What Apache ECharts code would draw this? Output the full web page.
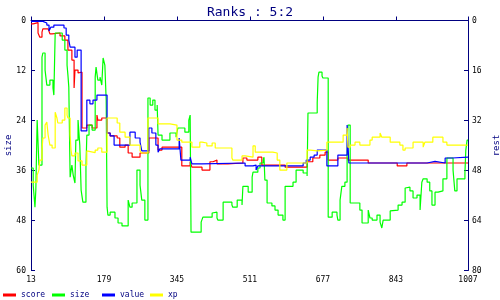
<!DOCTYPE html>
<html><head><meta charset="utf-8">
<script src="https://cdn.jsdelivr.net/npm/echarts@6/dist/echarts.min.js"></script>
<style>html,body{margin:0;padding:0;background:#fff}#c{width:500px;height:300px}</style>
</head><body><div id="c"></div>
<script>
const xTicks = [13, 179, 345, 511, 677, 843, 1007];
const seriesNames = ['score', 'size', 'value', 'xp'];

const score = [[13,0.8],[18,0.5],[29,3.0],[33,4.0],[38,2.8],[40,2.0],[52,2.3],[56,3.2],[61,3.0],[79,3.7],[90,4.7],[97,7.1],[106,9.5],[111,16.2],[113,11.9],[120,12.6],[124,12.4],[129,25.8],[140,25.1],[152,25.8],[163,22.7],[165,23.9],[174,23.4],[186,27.0],[193,27.7],[209,28.2],[215,30.4],[227,29.9],[234,31.8],[243,32.8],[261,31.8],[281,28.2],[302,31.1],[311,30.4],[356,34.9],[375,33.9],[379,35.2],[402,35.9],[420,33.9],[427,33.5],[436,34.4],[461,34.2],[495,33.0],[504,33.5],[529,32.8],[538,34.7],[591,35.2],[641,33.9],[654,33.0],[670,32.3],[682,31.6],[689,33.5],[711,33.0],[734,33.5],[780,34.2],[846,34.9],[868,34.2],[1007,34.2]];

const size = [[13,35.4],[18,39.5],[22,44.8],[24,40.7],[27,23.9],[31,34.7],[38,8.8],[40,7.8],[45,11.9],[49,15.5],[56,14.3],[63,16.2],[65,17.9],[68,3.0],[84,4.7],[90,7.1],[95,10.7],[97,13.1],[99,16.0],[102,37.6],[106,34.7],[109,37.1],[113,39.0],[115,28.7],[120,23.9],[124,29.9],[127,40.7],[131,43.6],[138,35.4],[140,27.5],[145,25.1],[152,26.3],[159,13.6],[161,11.2],[165,14.3],[170,13.6],[174,15.5],[177,9.0],[181,10.7],[184,19.1],[186,44.8],[188,46.7],[193,46.0],[204,47.4],[211,48.6],[220,49.3],[234,43.1],[238,44.8],[243,43.8],[254,35.9],[261,39.5],[265,43.1],[272,47.9],[279,18.6],[284,20.3],[290,19.1],[295,21.5],[300,20.3],[302,27.5],[311,28.7],[329,27.0],[343,28.0],[347,25.8],[356,25.8],[363,26.8],[372,23.9],[375,22.7],[377,50.8],[400,48.4],[404,47.2],[425,46.2],[427,46.0],[436,47.4],[438,47.9],[450,43.6],[470,44.3],[472,44.8],[482,43.1],[493,44.3],[495,39.8],[507,41.2],[516,37.6],[518,36.4],[529,35.4],[534,34.2],[541,33.5],[543,32.8],[545,38.3],[550,43.8],[561,44.5],[568,45.5],[575,46.7],[586,47.9],[591,39.8],[609,38.8],[616,35.9],[632,36.6],[641,37.3],[643,22.2],[664,19.8],[666,13.6],[668,12.4],[675,13.3],[677,13.8],[689,47.2],[698,46.0],[709,46.7],[711,47.9],[716,43.1],[720,39.8],[727,38.8],[732,32.3],[734,25.1],[739,43.8],[761,45.5],[766,48.6],[780,45.5],[784,47.4],[789,47.9],[800,46.7],[807,48.4],[811,49.8],[814,47.9],[830,45.7],[834,45.5],[848,44.3],[857,43.6],[864,40.2],[868,40.0],[875,40.9],[882,42.6],[891,41.9],[898,45.5],[902,38.8],[905,38.0],[914,38.8],[920,40.9],[925,44.3],[932,41.2],[939,40.9],[950,38.0],[959,33.0],[973,35.9],[977,40.9],[982,38.0],[1000,36.6],[1002,31.1],[1005,28.7],[1007,28.7]];

const value = [[13,0.2],[40,0.6],[49,1.1],[54,2.5],[58,1.6],[65,1.1],[88,1.8],[93,3.5],[99,4.7],[102,6.4],[113,8.8],[118,7.1],[127,26.5],[140,19.1],[147,20.0],[154,19.1],[163,17.9],[186,27.0],[193,27.7],[202,29.9],[238,26.8],[250,28.2],[261,29.2],[265,31.3],[281,25.8],[288,27.0],[297,29.9],[302,31.6],[306,30.8],[350,28.2],[354,33.5],[375,32.8],[379,34.4],[402,34.2],[500,34.9],[518,34.7],[525,35.9],[529,34.9],[632,34.2],[639,33.5],[648,32.8],[657,32.3],[664,31.1],[686,34.9],[711,32.3],[732,25.1],[736,34.2],[914,33.8],[932,34.2],[955,33.0],[971,32.8],[1007,32.8]];

const xp = [[13,38.8],[27,37.1],[31,35.9],[33,33.5],[38,31.1],[40,28.2],[45,25.1],[49,24.4],[52,27.5],[56,29.9],[61,30.6],[68,22.0],[72,23.4],[74,24.6],[84,23.9],[90,21.0],[95,22.7],[97,23.4],[102,27.5],[104,31.1],[106,32.5],[113,31.8],[120,33.7],[129,34.7],[140,31.3],[143,31.7],[159,31.1],[165,30.6],[174,31.6],[186,23.4],[209,24.6],[215,26.8],[227,28.0],[238,29.9],[261,31.3],[265,31.8],[279,23.4],[302,24.8],[329,25.1],[345,28.7],[356,29.2],[379,30.4],[397,29.2],[402,29.4],[413,30.1],[425,29.4],[432,30.6],[470,33.0],[472,33.5],[493,32.5],[500,32.8],[518,30.1],[523,31.6],[563,31.8],[573,33.5],[579,35.9],[595,34.2],[641,31.1],[648,31.3],[664,31.1],[686,29.2],[723,27.5],[732,25.8],[734,30.4],[739,29.9],[750,29.2],[761,29.9],[784,28.7],[789,28.0],[807,27.0],[811,28.0],[830,29.2],[852,29.9],[859,31.1],[864,30.6],[882,29.2],[905,30.4],[909,29.2],[927,28.0],[950,29.2],[959,29.9],[1007,29.9]];

const colors = ['#ff0000', '#00ff00', '#0000ff', '#ffff00'];
const seriesData = [score, size, value, xp];
const navy = '#000080';
const font = 'DejaVu Sans Mono';
const legendLeft = [3, 52, 102, 150];

const chart = echarts.init(document.getElementById('c'));
const option = {
  animation: false,
  title: {
    text: 'Ranks : 5:2', left: 'center', top: 1,
    textStyle: {color: navy, fontFamily: font, fontSize: 13, fontWeight: 'normal'}
  },
  grid: {left: 31, right: 32, top: 20.5, bottom: 29.5, containLabel: false, outerBoundsMode: 'none'},
  xAxis: {
    type: 'value', min: 13, max: 1007,
    axisLine: {show: true, lineStyle: {color: navy, width: 1}},
    axisTick: {show: true, inside: true, length: 4, customValues: xTicks, lineStyle: {color: navy}},
    axisLabel: {customValues: xTicks, formatter: v => String(v), color: '#000', fontFamily: font, fontSize: 8, margin: 5},
    splitLine: {show: false}
  },
  yAxis: [
    {
      type: 'value', min: 0, max: 60, interval: 12, inverse: true, position: 'left',
      name: 'size', nameLocation: 'middle', nameGap: 18, nameRotate: 90, nameMoveOverlap: false,
      nameTextStyle: {color: navy, fontFamily: font, fontSize: 9},
      axisLine: {show: true, lineStyle: {color: navy, width: 1}},
      axisTick: {show: true, inside: true, length: 4, lineStyle: {color: navy}},
      axisLabel: {color: '#000', fontFamily: font, fontSize: 8, margin: 5},
      splitLine: {show: false}
    },
    {
      type: 'value', min: 0, max: 80, interval: 16, inverse: true, position: 'right',
      name: 'rest', nameLocation: 'middle', nameGap: 24, nameRotate: 90, nameMoveOverlap: false,
      nameTextStyle: {color: navy, fontFamily: font, fontSize: 9},
      axisLine: {show: true, lineStyle: {color: navy, width: 1}},
      axisTick: {show: true, inside: true, length: 4, lineStyle: {color: navy}},
      axisLabel: {color: '#000', fontFamily: font, fontSize: 8, margin: 4},
      splitLine: {show: false}
    }
  ],
  legend: seriesNames.map((n, i) => ({
    data: [n], left: legendLeft[i], top: 291, padding: 0,
    icon: 'rect', itemWidth: 13, itemHeight: 3,
    textStyle: {color: navy, fontFamily: font, fontSize: 8}
  })),
  series: seriesNames.map((n, i) => ({
    name: n, type: 'line', step: 'end', yAxisIndex: 0,
    data: seriesData[i], showSymbol: false, symbol: 'none',
    lineStyle: {color: colors[i], width: 1.2}, itemStyle: {color: colors[i]},
    silent: true
  }))
};
chart.setOption(option);
</script>
</body></html>
